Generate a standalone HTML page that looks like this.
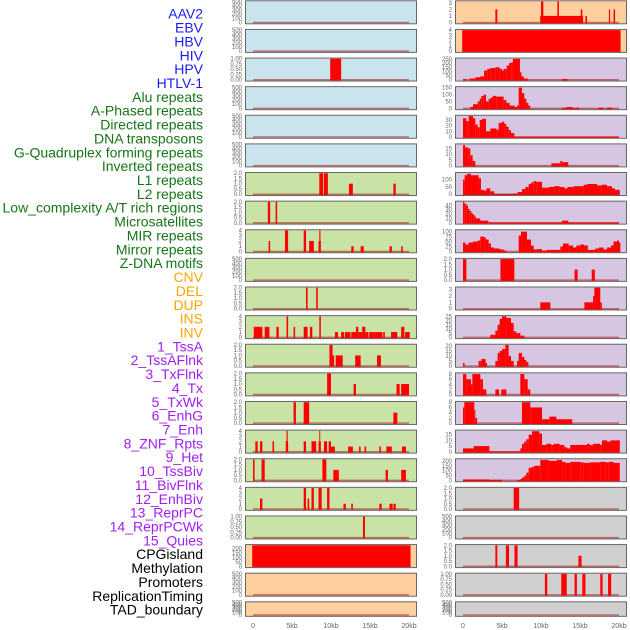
<!DOCTYPE html>
<html><head><meta charset="utf-8">
<style>
html,body{margin:0;padding:0;background:#fff;}
svg{display:block;font-family:"Liberation Sans",sans-serif;}
</style></head>
<body>
<svg id="chart" width="630" height="630" viewBox="0 0 630 630" xmlns="http://www.w3.org/2000/svg"></svg>
<script>
// ---- labels ----
const trackLabels = ["AAV2","EBV","HBV","HIV","HPV","HTLV-1","Alu repeats","A-Phased repeats","Directed repeats","DNA transposons","G-Quadruplex forming repeats","Inverted repeats","L1 repeats","L2 repeats","Low_complexity A/T rich regions","Microsatellites","MIR repeats","Mirror repeats","Z-DNA motifs","CNV","DEL","DUP","INS","INV","1_TssA","2_TssAFlnk","3_TxFlnk","4_Tx","5_TxWk","6_EnhG","7_Enh","8_ZNF_Rpts","9_Het","10_TssBiv","11_BivFlnk","12_EnhBiv","13_ReprPC","14_ReprPCWk","15_Quies","CPGisland","Methylation","Promoters","ReplicationTiming","TAD_boundary"];
const labelGroups = ["virus","virus","virus","virus","virus","virus","repeat","repeat","repeat","repeat","repeat","repeat","repeat","repeat","repeat","repeat","repeat","repeat","repeat","sv","sv","sv","sv","sv","chrom","chrom","chrom","chrom","chrom","chrom","chrom","chrom","chrom","chrom","chrom","chrom","chrom","chrom","chrom","other","other","other","other","other"];
const xTickValues = [0,5,10,15,20];
const xTickLabels = ["0","5kb","10kb","15kb","20kb"];
// y ticks per panel
const T500 = [0,100,200,300,400,500];
const T1 = [0,0.25,0.5,0.75,1];
const T2 = [0,0.5,1,1.5,2];
const T4 = [0,1,2,3,4];
// ---- left column panel data: [startKb, endKb, value] ----
const leftTicks = [T500,T500,T1,T500,T500,T500,T2,T2,T4,T500,T2,T4,T2,T2,T2,T4,T2,T4,T1,[0,50,100,150,200],T500,T500];
const leftMax = [500,500,1,500,500,500,2,2,4,500,2,4,2,2,2,4,2,4,1,235,500,500];
const leftBars = [
 [],[],
 [[9.9,11.3,1]],
 [],[],[],
 [[8.5,9.0,2],[9.1,9.6,2],[12.3,12.8,1],[18.0,18.3,1]],
 [[1.9,2.2,2],[2.9,3.1,2]],
 [[2.0,2.2,2],[4.1,4.5,4],[6.5,6.8,4],[7.2,7.8,2],[8.4,8.7,2],[8.5,8.65,4],[12.6,12.9,1],[13.8,14.2,1],[17.5,17.8,1],[19.0,19.2,1]],
 [],
 [[6.8,7.0,2],[8.1,8.3,2]],
 [[0.1,1.2,2],[1.5,2.1,2],[3.0,3.3,2],[4.3,4.5,4],[5.2,5.4,2],[6.5,7.0,2],[7.3,7.6,2],[8.5,8.7,4],[10.5,10.9,1],[11.3,11.7,1],[11.8,12.5,1],[12.6,13.2,1],[13.2,13.5,2],[13.5,14.0,1],[14.0,14.4,2],[14.4,14.8,1],[14.9,15.6,1],[15.6,16.6,1],[16.7,16.9,1],[17.7,18.5,1],[19.0,19.4,2],[19.5,20.1,1]],
 [[9.8,10.2,2],[10.2,10.4,1],[10.6,11.5,1],[13.1,13.8,1],[15.9,16.4,1]],
 [[9.5,10.0,2],[12.9,13.2,1],[18.4,18.8,1],[19.0,20.0,1]],
 [[5.2,5.5,2],[6.5,7.2,2],[18.0,18.5,1]],
 [[0.3,0.6,2],[0.9,1.2,2],[2.5,2.7,2],[4.2,4.5,2],[4.3,4.45,4],[6.5,6.8,2],[7.5,8.1,2],[8.4,8.7,2],[8.5,8.62,4],[9.1,9.5,2],[9.7,10.0,2],[10.0,10.5,1],[12.2,12.8,1],[13.6,13.8,1],[14.3,14.5,1],[16.2,16.4,1],[17.1,17.8,1],[19.1,19.6,1]],
 [[0,0.2,2],[1.1,1.5,2],[8.9,9.4,2],[10.3,11.0,1],[17.0,17.3,1],[19.0,19.6,1]],
 [[0.9,1.2,2],[6.5,6.8,4],[7.0,7.2,2],[7.5,7.8,4],[8.4,8.8,4],[9.5,9.8,4],[11.6,11.9,1],[12.6,12.8,1],[16.2,16.5,1],[17.5,17.9,1],[18.0,18.3,1]],
 [[14.1,14.35,1]],
 [[-0.1,20.2,235]],
 [],[]
];
// ---- right column panel data ----
const rightTicks = [[0,1,2,3],T4,[0,50,100,150,200,250],[0,50,100,150],[0,10,20,30],[0,5,10,15],[0,50,100],[0,10,20,30,40],[0,25,50,75,100],T2,[0,1,2,3],[0,5,10,15,20,25],[0,5,10,15,20],[0,2,4,6,8],[0,2,4,6,8],[0,5,10,15],[0,50,100,150,200],T2,T500,T2,T1,T500];
const rightMax = [3.2,4,252,152,37,18.4,144,48,106,2,3.3,25,21,8.2,8,18.4,215,2,500,2,1,500];
const rightBars = [
 [[9.9,15.4,1],[4.15,4.4,2],[10.0,10.3,3.2],[12.1,12.3,3.2],[15.1,15.3,2],[15.7,15.9,1],[18.7,18.85,2],[19.3,19.5,2]],
 [[-0.1,20.2,4]],
 [[0,0.4,8],[0.85,1.6,15],[1.6,2.2,30],[2.2,2.7,40],[2.7,3.1,110],[3.1,3.5,130],[3.5,4.15,140],[4.15,4.7,150],[4.7,5.0,130],[5.0,5.2,110],[5.2,5.6,130],[5.6,5.9,170],[5.9,6.2,200],[6.2,6.4,210],[6.4,7.3,250],[7.3,7.5,90],[7.5,7.8,40],[7.8,8.3,15],[12.7,13.4,10]],
 [[0.94,1.28,10],[1.28,1.88,30],[1.88,2.14,50],[2.14,2.35,70],[2.35,2.65,90],[2.65,2.95,100],[2.95,3.29,50],[3.29,3.59,70],[3.59,3.85,80],[3.85,4.27,90],[4.27,5.21,85],[5.21,5.56,60],[5.56,5.98,40],[5.98,6.62,20],[6.62,6.92,10],[6.92,7.14,20],[7.14,7.56,150],[7.56,7.86,110],[7.86,8.12,70],[8.12,8.38,40],[8.38,8.63,20],[12.7,13.33,5],[13.33,13.97,10],[13.97,14.4,5],[14.49,14.9,5],[17.35,17.95,5],[18.46,19.1,5]],
 [[0,0.43,33],[0.43,0.73,28],[0.73,1.28,37],[1.28,1.58,33],[1.58,1.88,22],[1.88,2.14,17],[2.14,2.44,30],[2.44,2.95,32],[2.95,3.5,10],[3.5,4.27,15],[4.27,4.57,13],[4.57,5.0,25],[5.0,5.3,27],[5.3,5.56,23],[5.56,5.85,18],[5.85,6.15,12],[6.15,6.58,7],[6.58,20,0.6]],
 [[0,0.26,18],[0.26,0.68,16],[0.68,0.94,15],[0.94,1.24,9],[1.24,1.58,4],[11.33,12.48,2],[12.48,12.74,4],[12.74,13.5,3]],
 [[0,0.21,100],[0.21,0.51,130],[0.51,1.03,140],[1.03,2.0,130],[2.0,2.3,110],[2.3,2.65,30],[2.65,3.0,25],[3.0,3.5,40],[3.5,4.0,20],[4.0,6.4,2],[6.4,7.0,5],[7.0,7.56,15],[7.56,8.0,35],[8.0,8.42,50],[8.42,8.72,70],[8.72,9.06,80],[9.06,9.4,90],[9.4,10.13,85],[10.13,10.98,45],[10.98,11.7,50],[11.7,12.4,55],[12.4,13.0,50],[13.0,13.4,40],[13.4,14.19,50],[14.19,15.47,55],[15.47,15.9,65],[15.9,17.18,70],[17.18,17.8,60],[17.8,18.46,65],[18.46,19.1,55],[19.1,19.5,40],[19.5,20.1,30]],
 [[0,0.17,48],[0.17,0.43,44],[0.43,0.64,40],[0.64,0.85,32],[0.85,1.07,27],[1.07,1.28,22],[1.28,1.5,18],[1.5,1.67,14],[1.67,2.22,10],[2.22,3.25,5],[3.25,20,1],[12.7,13.5,5]],
 [[0,0.3,45],[0.3,0.73,35],[0.73,1.28,45],[1.28,1.88,50],[1.88,2.22,55],[2.22,2.74,75],[2.74,2.95,70],[2.95,3.29,60],[3.29,3.59,40],[3.59,4.0,20],[4.0,4.7,15],[4.7,5.21,10],[5.21,5.56,5],[7.14,7.44,80],[7.44,8.2,100],[8.2,8.72,60],[8.72,9.06,30],[9.06,9.49,10],[9.49,10.13,12],[10.13,10.77,5],[10.77,12.48,8],[12.48,12.82,25],[12.82,13.55,40],[13.55,14.1,30],[14.1,14.53,20],[14.53,15.04,30],[15.04,15.56,35],[15.56,16.0,30],[16.0,16.97,8],[16.97,17.4,15],[17.4,18.03,20],[18.03,18.46,10],[18.46,18.97,20],[18.97,19.3,30],[19.3,19.74,50],[19.74,20.0,55],[20.0,20.17,45]],
 [[0,0.43,2],[4.8,6.58,2],[14.3,14.7,1],[16.5,16.9,1]],
 [[9.91,11.2,1],[15.56,16.67,1],[16.67,16.84,2],[16.84,17.6,3.3],[17.6,17.8,1]],
 [[3.5,4.15,3],[4.15,4.44,8],[4.44,4.7,15],[4.7,5.0,22],[5.0,5.56,25],[5.56,6.15,23],[6.15,6.5,17],[6.5,6.84,7],[6.84,7.35,5],[7.35,7.86,2]],
 [[0,0.2,3],[2.0,2.35,5],[2.35,2.9,7],[2.9,3.08,3],[4.15,4.44,5],[4.44,4.7,13],[4.7,5.0,15],[5.0,5.43,17],[5.43,5.85,21],[5.85,6.15,10],[6.15,6.5,5],[6.92,7.14,5],[7.14,7.56,13],[7.56,7.86,9],[7.86,8.12,6],[8.12,8.38,4]],
 [[0,0.43,8],[0.43,1.03,6],[1.03,1.2,4],[1.2,2.22,8],[2.22,2.56,6],[2.56,2.99,2],[4.15,4.62,2],[4.92,5.56,2],[7.35,7.86,8],[7.86,8.29,6],[8.29,8.63,2]],
 [[0,0.17,6],[0.17,1.45,8],[1.45,1.58,5],[1.58,1.8,2],[7.56,8.63,8],[8.63,10.13,6],[10.13,11.07,1.5],[11.07,11.97,2.5],[11.97,14.0,1.5]],
 [[0,1.37,3],[1.37,3.38,5],[3.38,7.35,0.3],[7.35,7.56,3],[7.56,7.86,7],[7.86,8.12,9],[8.12,8.42,11],[8.42,8.85,15],[8.85,9.79,18],[9.79,10.13,16],[10.13,10.68,6],[10.68,11.32,7],[11.32,11.62,6],[11.62,12.4,7],[12.4,13.0,6],[13.0,13.33,4],[13.33,13.76,3],[13.76,15.9,6],[15.9,16.24,7],[16.24,16.67,6],[16.67,17.6,7],[17.6,17.82,6],[17.82,18.46,10],[18.46,18.9,9],[18.9,20.1,10]],
 [[0,3.38,10],[3.38,5.0,6],[6.92,7.35,5],[7.35,7.56,15],[7.56,7.86,30],[7.86,8.12,50],[8.12,8.42,80],[8.42,8.85,130],[8.85,9.15,140],[9.15,9.91,150],[9.91,10.98,210],[10.98,12.05,200],[12.05,12.7,210],[12.7,13.12,190],[13.12,13.76,180],[13.76,15.04,190],[15.04,15.47,185],[15.47,16.3,180],[16.3,17.6,185],[17.6,18.25,190],[18.25,18.68,185],[18.68,19.3,190],[19.3,20.1,180]],
 [[6.5,7.2,2]],
 [],
 [[4.15,4.4,2],[5.5,5.9,2],[6.6,7.0,2],[14.8,15.2,1]],
 [[10.5,10.8,1],[12.6,13.3,1],[14.3,14.6,1],[15.3,15.7,1],[17.6,17.9,1],[18.6,19.0,1]],
 []
];
const leftBg = ["#c9e4ec","#c9e4ec","#c9e4ec","#c9e4ec","#c9e4ec","#c9e4ec","#c9e2a5","#c9e2a5","#c9e2a5","#c9e2a5","#c9e2a5","#c9e2a5","#c9e2a5","#c9e2a5","#c9e2a5","#c9e2a5","#c9e2a5","#c9e2a5","#c9e2a5","#fecf9f","#fecf9f","#fecf9f"];
const rightBg = ["#fecf9f","#fecf9f","#d6c6e2","#d6c6e2","#d6c6e2","#d6c6e2","#d6c6e2","#d6c6e2","#d6c6e2","#d6c6e2","#d6c6e2","#d6c6e2","#d6c6e2","#d6c6e2","#d6c6e2","#d6c6e2","#d6c6e2","#d0d0d0","#d0d0d0","#d0d0d0","#d0d0d0","#d0d0d0"];

const NS="http://www.w3.org/2000/svg";
const svg=document.getElementById('chart');
function mk(tag,attrs,parent){const e=document.createElementNS(NS,tag);for(const k in attrs)e.setAttribute(k,attrs[k]);(parent||svg).appendChild(e);return e;}
const groupColor={virus:"#1c1cf0",repeat:"#167516",sv:"#ffa500",chrom:"#a020f0",other:"#000000"};

// left labels
trackLabels.forEach((t,i)=>{
  const el=mk('text',{x:203,y:15+i*13.86,'text-anchor':'end','dominant-baseline':'middle','font-size':'14',fill:groupColor[labelGroups[i]]});
  el.textContent=t;
  
  
});

function fmt(v,ticks){const mx=ticks[ticks.length-1];if(mx===1)return v.toFixed(2);if(mx===2)return v.toFixed(1);return String(v);}

function drawColumn(col,px,bars,ticks,maxes,bgs){
  const pw=172, x0kb=px+8, kbScale=7.8;
  const xs=kb=>x0kb+kb*kbScale;
  for(let i=0;i<22;i++){
    const top=0.3+i*28.62, h=(i===21)?15.5:24;
    const g=mk('g',{});
    
    
    const frame=mk('rect',{x:px+0.5,y:top+0.5,width:pw-1,height:h-1,fill:bgs[i],stroke:'#666','stroke-width':1},g);
    
    
    const y0=top+h-1.8, yTop=top+1.2, mx=maxes[i];
    const ys=v=>y0-Math.min(v,mx)/mx*(y0-yTop);
    const base=mk('line',{x1:xs(0),x2:xs(20),y1:y0,y2:y0,stroke:'rgba(170,0,0,0.5)','stroke-width':1.5},g);
    
    
    bars[i].forEach(b=>{
      const r=mk('rect',{x:xs(b[0]),y:ys(b[2]),width:Math.max(0.8,xs(b[1])-xs(b[0])),height:y0-ys(b[2])+0.8,fill:'#ff0000'},g);
      
      
    });
    const tk=ticks[i];
    const ymaxT=tk[tk.length-1];
    tk.forEach(v=>{
      const t=mk('text',{x:px-3,y:ys(v)+2,'text-anchor':'end','font-size':'6',fill:'#666'},g);
      t.textContent=fmt(v,tk);
      
      
    });
  }
  xTickValues.forEach((v,j)=>{
    const t=mk('text',{x:xs(v),y:628,'text-anchor':'middle','font-size':'7',fill:'#666'});
    t.textContent=xTickLabels[j];
    
    
  });
}
drawColumn('left',245,leftBars,leftTicks,leftMax,leftBg);
drawColumn('right',455,rightBars,rightTicks,rightMax,rightBg);
</script>
</body></html>
